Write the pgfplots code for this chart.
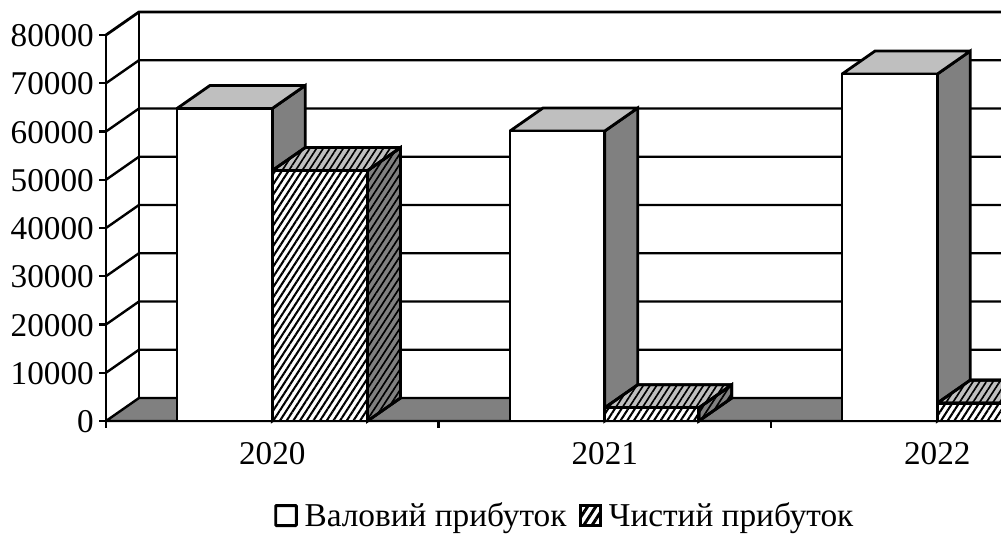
\documentclass[border=0pt]{standalone}
\usepackage{fontspec}
\setmainfont{Liberation Serif}
\usepackage{pgfplots}
\pgfplotsset{compat=1.18}
\usetikzlibrary{patterns.meta}
\definecolor{sidegray}{HTML}{808080}
\definecolor{topgray}{HTML}{BFBFBF}
\tikzset{hatchp/.style={pattern={Lines[angle=57,distance=4.2pt,line width=1.55pt]},pattern color=black},
 hatchq/.style={pattern={Lines[angle=57,distance=4.2pt,line width=1.25pt]},pattern color=black}}
\pgfplotsset{
  face/.style={forget plot,draw=black,line width=2.1pt,line join=miter,miter limit=3,mark=none,sharp plot},
  gridl/.style={forget plot,draw=black,line width=1.8pt,mark=none,sharp plot},
  wfront/.style={face,fill=white},
  wtop/.style={face,fill=topgray},
  wside/.style={face,fill=sidegray},
  hfront/.style={face,preaction={fill=white},hatchp},
  htop/.style={face,preaction={fill=topgray},hatchq},
  hside/.style={face,preaction={fill=sidegray},hatchq},
}
\begin{document}
\begin{tikzpicture}
\path[use as bounding box,clip] (0,0) rectangle (750.75pt,399.75pt);
\begin{axis}[
  at={(79.5pt,84pt)},anchor=origin,
  scale only axis,width=671.25pt,height=315.75pt,
  xmin=0,xmax=2.6917,ymin=0,ymax=87254,
  clip=false,
  axis line style={draw=none},
  tick align=outside,
  major tick length=5pt,
  every tick/.style={black,line width=1.8pt},
  xtick={0.5,1.5,2.5},xticklabels={2020,2021,2022},
  major x tick style={draw=none},
  extra x ticks={0,1,2},extra x tick labels={},
  extra x tick style={major x tick style={draw=black,line width=1.8pt}},
  ytick={0,10000,20000,30000,40000,50000,60000,70000,80000},
  scaled y ticks=false,
  /pgf/number format/set thousands separator={},
  /pgf/number format/assume math mode=true,
  tick label style={font=\fontsize{24.9}{28}\selectfont},
  yticklabel style={inner sep=0pt,xshift=-4pt,yshift=-0.6pt},
  xticklabel style={inner sep=0pt,yshift=-10.6pt},
  legend style={draw=none,fill=none,at={(123pt,-84.8pt)},anchor=south west,font=\fontsize{25}{28}\selectfont,legend columns=2,
     /tikz/every even column/.append style={column sep=7pt}},
  legend cell align=left,
]
% floor
\addplot[wside,line width=1.8pt] coordinates {(0,0)(0.0992,4767)(2.75,4767)(2.75,0)} --cycle;
% walls and gridlines
\addplot[gridl] coordinates {(0,10000)(0.0992,14767)(2.75,14767)};
\addplot[gridl] coordinates {(0,20000)(0.0992,24767)(2.75,24767)};
\addplot[gridl] coordinates {(0,30000)(0.0992,34767)(2.75,34767)};
\addplot[gridl] coordinates {(0,40000)(0.0992,44767)(2.75,44767)};
\addplot[gridl] coordinates {(0,50000)(0.0992,54767)(2.75,54767)};
\addplot[gridl] coordinates {(0,60000)(0.0992,64767)(2.75,64767)};
\addplot[gridl] coordinates {(0,70000)(0.0992,74767)(2.75,74767)};
\addplot[face] coordinates {(0,80000)(0.0992,84767)(2.75,84767)};
\addplot[face] coordinates {(0.0992,4767)(0.0992,84767)};
\addplot[face] coordinates {(0,0)(0,80000)};
% 2020 gross
\addplot[wside] coordinates {(0.5,0)(0.5992,4767)(0.5992,69537)(0.5,64770)} --cycle;
\addplot[wtop] coordinates {(0.2135,64770)(0.5,64770)(0.5992,69537)(0.3127,69537)} --cycle;
\addplot[wfront] coordinates {(0.2135,0)(0.5,0)(0.5,64770)(0.2135,64770)} --cycle;
% 2020 net
\addplot[hside] coordinates {(0.7865,0)(0.8857,4767)(0.8857,56667)(0.7865,51900)} --cycle;
\addplot[htop] coordinates {(0.5,51900)(0.7865,51900)(0.8857,56667)(0.5992,56667)} --cycle;
\addplot[hfront] coordinates {(0.5,0)(0.7865,0)(0.7865,51900)(0.5,51900)} --cycle;
% 2021 gross
\addplot[wside] coordinates {(1.5,0)(1.5992,4767)(1.5992,64867)(1.5,60100)} --cycle;
\addplot[wtop] coordinates {(1.215,60100)(1.5,60100)(1.5992,64867)(1.3142,64867)} --cycle;
\addplot[wfront] coordinates {(1.215,0)(1.5,0)(1.5,60100)(1.215,60100)} --cycle;
% 2021 net
\addplot[hside] coordinates {(1.783,0)(1.8822,4767)(1.8822,7517)(1.783,2750)} --cycle;
\addplot[htop] coordinates {(1.5,2750)(1.783,2750)(1.8822,7517)(1.5992,7517)} --cycle;
\addplot[hfront] coordinates {(1.5,0)(1.783,0)(1.783,2750)(1.5,2750)} --cycle;
% 2022 gross
\addplot[wside] coordinates {(2.5,0)(2.5992,4767)(2.5992,76667)(2.5,71900)} --cycle;
\addplot[wtop] coordinates {(2.2135,71900)(2.5,71900)(2.5992,76667)(2.3127,76667)} --cycle;
\addplot[wfront] coordinates {(2.2135,0)(2.5,0)(2.5,71900)(2.2135,71900)} --cycle;
% 2022 net
\addplot[hside] coordinates {(2.7865,0)(2.8857,4767)(2.8857,8467)(2.7865,3700)} --cycle;
\addplot[htop] coordinates {(2.5,3700)(2.7865,3700)(2.8857,8467)(2.5992,8467)} --cycle;
\addplot[hfront] coordinates {(2.5,0)(2.7865,0)(2.7865,3700)(2.5,3700)} --cycle;
% baseline
\addplot[gridl] coordinates {(0,0)(2.75,0)};
\addlegendimage{legend image code/.code={\draw[black,line width=2.2pt,fill=white,rounded corners=0.6pt] (0pt,-7.5pt) rectangle (15.5pt,7.5pt);}}
\addlegendentry{\hspace{3pt}Валовий прибуток}
\addlegendimage{legend image code/.code={\draw[black,line width=2.2pt,preaction={fill=white},pattern={Lines[angle=57,distance=5.2pt,line width=2.2pt]},pattern color=black] (0pt,-7.5pt) rectangle (15.5pt,7.5pt);}}
\addlegendentry{\hspace{3pt}Чистий прибуток}
\end{axis}
\end{tikzpicture}
\end{document}
